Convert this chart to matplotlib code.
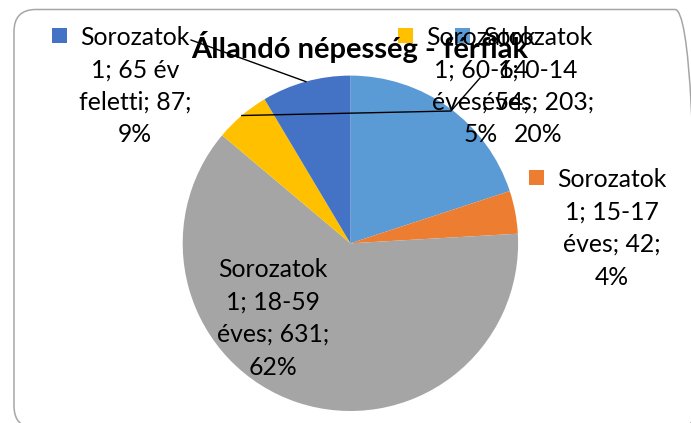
import numpy as np
import matplotlib
matplotlib.use("Agg")
import matplotlib.pyplot as plt
from matplotlib.patches import FancyBboxPatch, Rectangle
from matplotlib.lines import Line2D
from matplotlib.transforms import IdentityTransform

# data
title = "Állandó népesség - férfiak"
series = "Sorozatok 1"
categories = ["0-14 éves", "15-17 éves", "18-59 éves", "60-64 éves", "65 év feletti"]
values = [203, 42, 631, 54, 87]
colors = ["#5B9BD5", "#ED7D31", "#A5A5A5", "#FFC000", "#4472C4"]

W, H = 691, 423
plt.rcParams['font.family'] = ['Lato', 'DejaVu Sans']

fig = plt.figure(figsize=(W / 100, H / 100), dpi=100)


def fxy(x, y):
    # image pixels (top-left origin) -> figure fraction
    return x / W, 1 - y / H


# chart frame
frame = FancyBboxPatch((14, H - 428), 683, 418.5,
                       boxstyle="round,pad=0,rounding_size=22",
                       transform=IdentityTransform(), fc="none",
                       ec="#A6A6A6", lw=1.1)
fig.patches.append(frame)

# pie
cx, cy, r = 350.4, 243.3, 167.7
ax = fig.add_axes([(cx - r) / W, 1 - (cy + r) / H, 2 * r / W, 2 * r / H])
wedges, _ = ax.pie(values, colors=colors, startangle=90, counterclock=False,
                   radius=1, wedgeprops=dict(linewidth=0))
ax.set_xlim(-1, 1)
ax.set_ylim(-1, 1)
ax.axis("off")

fig.text(*fxy(360, 58), title, ha="center", va="baseline",
         fontsize=21, fontweight="bold", color="black")

total = sum(values)
pcts = [round(v / total * 100) for v in values]

# label placement: (center x, first baseline y, has key square)
label_pos = [(538, 45, True), (612, 187, True), (273, 277, False),
             (481, 45, True), (135, 45, True)]
line_gap = 32.5
s_first, s_num = series.split(" ")

for i, (cat, v, p) in enumerate(zip(categories, values, pcts)):
    age, unit = cat.rsplit(" ", 1)
    lines = [s_first, f"{s_num}; {age}", f"{unit}; {v};", f"{p}%"]
    x, y0, key = label_pos[i]
    for j, ln in enumerate(lines):
        fig.text(*fxy(x, y0 + j * line_gap), ln, ha="center", va="baseline",
                 fontsize=17.8, color="black")
    if key:
        sx, sy = x - 76, y0 - 9.5
        fig.patches.append(Rectangle((sx - 7.5, H - sy - 7.5), 15, 15,
                                     transform=IdentityTransform(),
                                     fc=colors[i], ec="none"))


def wedge_mid(k):
    w = wedges[k]
    a = np.deg2rad((w.theta1 + w.theta2) / 2)
    px, py = ax.transData.transform((np.cos(a), np.sin(a)))
    return px, H - py


# leader lines
pts65 = [(191, 40), wedge_mid(4)]
pts60 = [wedge_mid(3), (451, 111), (480, 78)]
for pts in (pts65, pts60):
    xs = [fxy(*p)[0] for p in pts]
    ys = [fxy(*p)[1] for p in pts]
    fig.lines.append(Line2D(xs, ys, transform=fig.transFigure,
                            color="black", lw=1))

fig.savefig("out.png", dpi=100)
